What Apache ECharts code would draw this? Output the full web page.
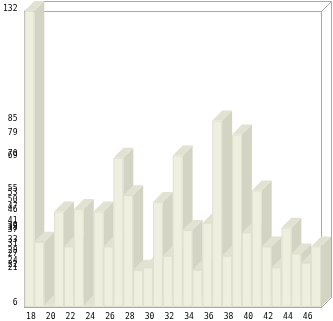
<!DOCTYPE html>
<html>
<head>
<meta charset="utf-8">
<script src="https://cdn.jsdelivr.net/npm/echarts@6/dist/echarts.min.js"></script>
<style>
  html, body { margin: 0; padding: 0; background: #fff; }
  #chart { width: 333px; height: 321px; }
</style>
</head>
<body>
<div id="chart"></div>
<script>
const categories = ['18','19','20','21','22','23','24','25','26','27','28','29','30','31','32',
                    '33','34','35','36','37','38','39','40','41','42','43','44','45','46','47'];
const values = [132, 33, 6, 46, 31, 47, 6, 46, 31, 69, 53, 21, 22, 50, 27,
                70, 38, 21, 41, 85, 27, 79, 37, 55, 31, 22, 39, 28, 24, 31];
const yMin = 5;
const yMax = 132;
const yTickValues = Array.from(new Set(values)).sort((a, b) => a - b);

const D = 10;
const FRONT = '#efefe0';
const SIDE = '#d4d4c4';
const TOP = '#e2e2d2';
const EDGE = '#e0e0cf';
const FRAME = '#aaaaaa';

function renderBar(params, api) {
  const cat = api.value(0);
  const v = api.value(1);
  const top = api.coord([cat, v]);
  const base = api.coord([cat, yMin]);
  const w = api.size([1, 0])[0];
  const x0 = top[0] - w / 2, x1 = top[0] + w / 2;
  const yt = top[1], yb = base[1];
  return {
    type: 'group',
    children: [
      { type: 'polygon', shape: { points: [[x1, yb], [x1, yt], [x1 + D, yt - D], [x1 + D, yb - D]] },
        style: { fill: SIDE } },
      { type: 'polygon', shape: { points: [[x0, yt], [x0 + D, yt - D], [x1 + D, yt - D], [x1, yt]] },
        style: { fill: TOP } },
      { type: 'rect', shape: { x: x0 + 0.5, y: yt + 0.5, width: w - 1, height: Math.max(yb - yt - 1, 0) },
        style: { fill: FRONT, stroke: EDGE, lineWidth: 1 } }
    ]
  };
}

function renderFrame(params, api) {
  const cs = params.coordSys;
  const L = cs.x + 0.5, T = cs.y + 0.5, R = cs.x + cs.width + 0.5, B = cs.y + cs.height + 0.5;
  const st = { stroke: FRAME, lineWidth: 1, fill: null };
  const line = (a, b, c, d) => ({ type: 'line', shape: { x1: a, y1: b, x2: c, y2: d }, style: st });
  return {
    type: 'group',
    children: [
      line(L, T, R, T),
      line(R, T, R, B),
      line(L + D, T - D, R + D, T - D),
      line(R + D, T - D, R + D, B - D),
      line(L, T, L + D, T - D),
      line(R, T, R + D, T - D),
      line(R, B, R + D, B - D)
    ]
  };
}

const chart = echarts.init(document.getElementById('chart'), null, { renderer: 'canvas' });
chart.setOption({
  animation: false,
  backgroundColor: '#ffffff',
  grid: { left: 21, top: 11, width: 300, height: 299 },
  xAxis: {
    type: 'category',
    data: categories,
    boundaryGap: true,
    axisLine: { show: true, lineStyle: { color: FRAME, width: 1 } },
    axisTick: { show: false },
    axisLabel: {
      interval: 1,
      margin: 6,
      padding: [0, 0, 0, 3],
      color: '#000',
      fontFamily: 'DejaVu Sans Mono',
      fontSize: 8
    },
    splitLine: { show: false }
  },
  yAxis: {
    type: 'value',
    min: yMin,
    max: yMax,
    axisLine: { show: true, lineStyle: { color: '#999999', width: 1 } },
    axisTick: { show: false },
    splitLine: { show: false },
    axisLabel: {
      customValues: yTickValues,
      margin: 7,
      formatter: (v) => '{a|' + v + '}',
      rich: {
        a: {
          padding: [0, 0, 4, 0],
          color: '#000',
          fontFamily: 'DejaVu Sans Mono',
          fontSize: 8
        }
      }
    }
  },
  series: [
    {
      type: 'custom',
      renderItem: renderFrame,
      data: [[0, yMin]],
      encode: { x: 0, y: 1 },
      z: 1,
      silent: true
    },
    {
      type: 'custom',
      renderItem: renderBar,
      data: values.map((v, i) => [i, v]),
      encode: { x: 0, y: 1 },
      z: 2
    }
  ]
});
</script>
</body>
</html>
